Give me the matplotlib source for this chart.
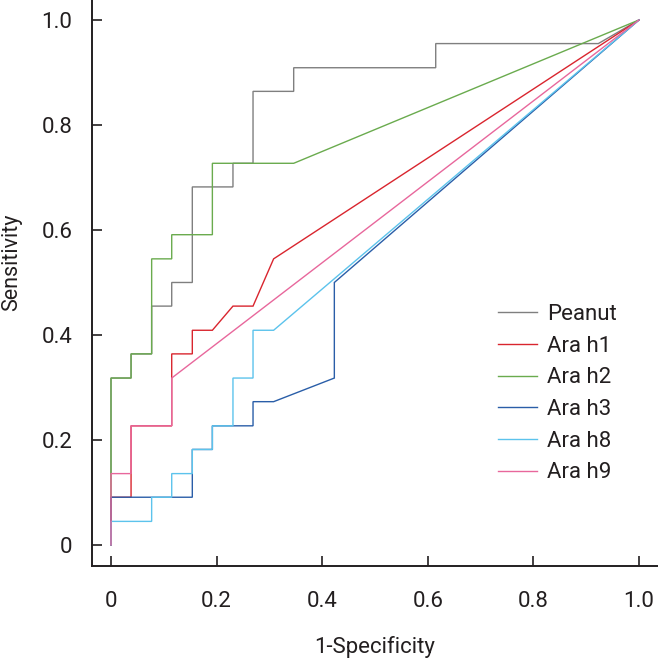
import matplotlib
matplotlib.use("Agg")
import matplotlib.pyplot as plt

# ROC curves (1-specificity, sensitivity)
peanut_x = [0, 0, 0.038, 0.038, 0.077, 0.077, 0.115, 0.115, 0.154, 0.154, 0.231, 0.231,
            0.269, 0.269, 0.346, 0.346, 0.615, 0.615, 0.923, 1.0]
peanut_y = [0, 0.318, 0.318, 0.364, 0.364, 0.455, 0.455, 0.5, 0.5, 0.682, 0.682, 0.727,
            0.727, 0.864, 0.864, 0.909, 0.909, 0.955, 0.955, 1.0]

h1_x = [0, 0, 0.038, 0.038, 0.115, 0.115, 0.154, 0.154, 0.192, 0.231, 0.269, 0.308, 1.0]
h1_y = [0, 0.091, 0.091, 0.227, 0.227, 0.364, 0.364, 0.409, 0.409, 0.455, 0.455, 0.545, 1.0]

h2_x = [0, 0, 0.038, 0.038, 0.077, 0.077, 0.115, 0.115, 0.192, 0.192, 0.346, 1.0]
h2_y = [0, 0.318, 0.318, 0.364, 0.364, 0.545, 0.545, 0.591, 0.591, 0.727, 0.727, 1.0]

h3_x = [0, 0, 0.154, 0.154, 0.192, 0.192, 0.269, 0.269, 0.308, 0.423, 0.423, 1.0]
h3_y = [0, 0.091, 0.091, 0.182, 0.182, 0.227, 0.227, 0.273, 0.273, 0.318, 0.5, 1.0]

h8_x = [0, 0, 0.077, 0.077, 0.115, 0.115, 0.154, 0.154, 0.192, 0.192, 0.231, 0.231,
        0.269, 0.269, 0.308, 1.0]
h8_y = [0, 0.045, 0.045, 0.091, 0.091, 0.136, 0.136, 0.182, 0.182, 0.227, 0.227, 0.318,
        0.318, 0.409, 0.409, 1.0]

h9_x = [0, 0, 0.038, 0.038, 0.115, 0.115, 1.0]
h9_y = [0, 0.136, 0.136, 0.227, 0.227, 0.318, 1.0]

labels = ["Peanut", "Ara h1", "Ara h2", "Ara h3", "Ara h8", "Ara h9"]
colors = ["#7f7f7f", "#d9252e", "#6aab4e", "#2a5ea8", "#5cc3ec", "#e8679c"]
xticks = [0, 0.2, 0.4, 0.6, 0.8, 1.0]
xtick_labels = ["0", "0.2", "0.4", "0.6", "0.8", "1.0"]

plt.rcParams['font.family'] = ['Liberation Sans Narrow', 'Roboto', 'DejaVu Sans']
ink = "#231f20"

fig = plt.figure(figsize=(6.58, 6.6), dpi=100)
ax = fig.add_axes([0.1398, 0.1424, 0.8602, 0.8576])

curves = [(peanut_x, peanut_y), (h1_x, h1_y), (h2_x, h2_y),
          (h3_x, h3_y), (h8_x, h8_y), (h9_x, h9_y)]
for (xs, ys), lab, col in zip(curves, labels, colors):
    ax.plot(xs, ys, color=col, lw=1.0, label=lab, solid_joinstyle='miter')

ax.set_xlim(-0.036, 1.036)
ax.set_ylim(-0.04, 1.038)
ax.set_xticks(xticks)
ax.set_xticklabels(xtick_labels)
ax.set_yticks(xticks)
ax.set_yticklabels(xtick_labels)
ax.tick_params(direction='in', length=7, width=1.2, colors=ink, labelsize=16)
ax.tick_params(axis='x', pad=18)
ax.tick_params(axis='y', pad=14)
for s in ['top', 'right']:
    ax.spines[s].set_visible(False)
for s in ['left', 'bottom']:
    ax.spines[s].set_color(ink)
    ax.spines[s].set_linewidth(1.4)

ax.set_xlabel("1-Specificity", fontsize=16, color=ink)
ax.set_ylabel("Sensitivity", fontsize=15.5, color=ink)
ax.xaxis.set_label_coords(0.5, -0.124)
ax.yaxis.set_label_coords(-0.124, 0.537)

leg = ax.legend(loc='upper left', bbox_to_anchor=(498 / 658, 1 - 304 / 660),
                bbox_transform=fig.transFigure, frameon=False, fontsize=16,
                handlelength=1.75, handletextpad=0.45, labelspacing=0.48,
                borderpad=0, borderaxespad=0)
for t in leg.get_texts():
    t.set_color(ink)

plt.savefig("out.png", dpi=100)
